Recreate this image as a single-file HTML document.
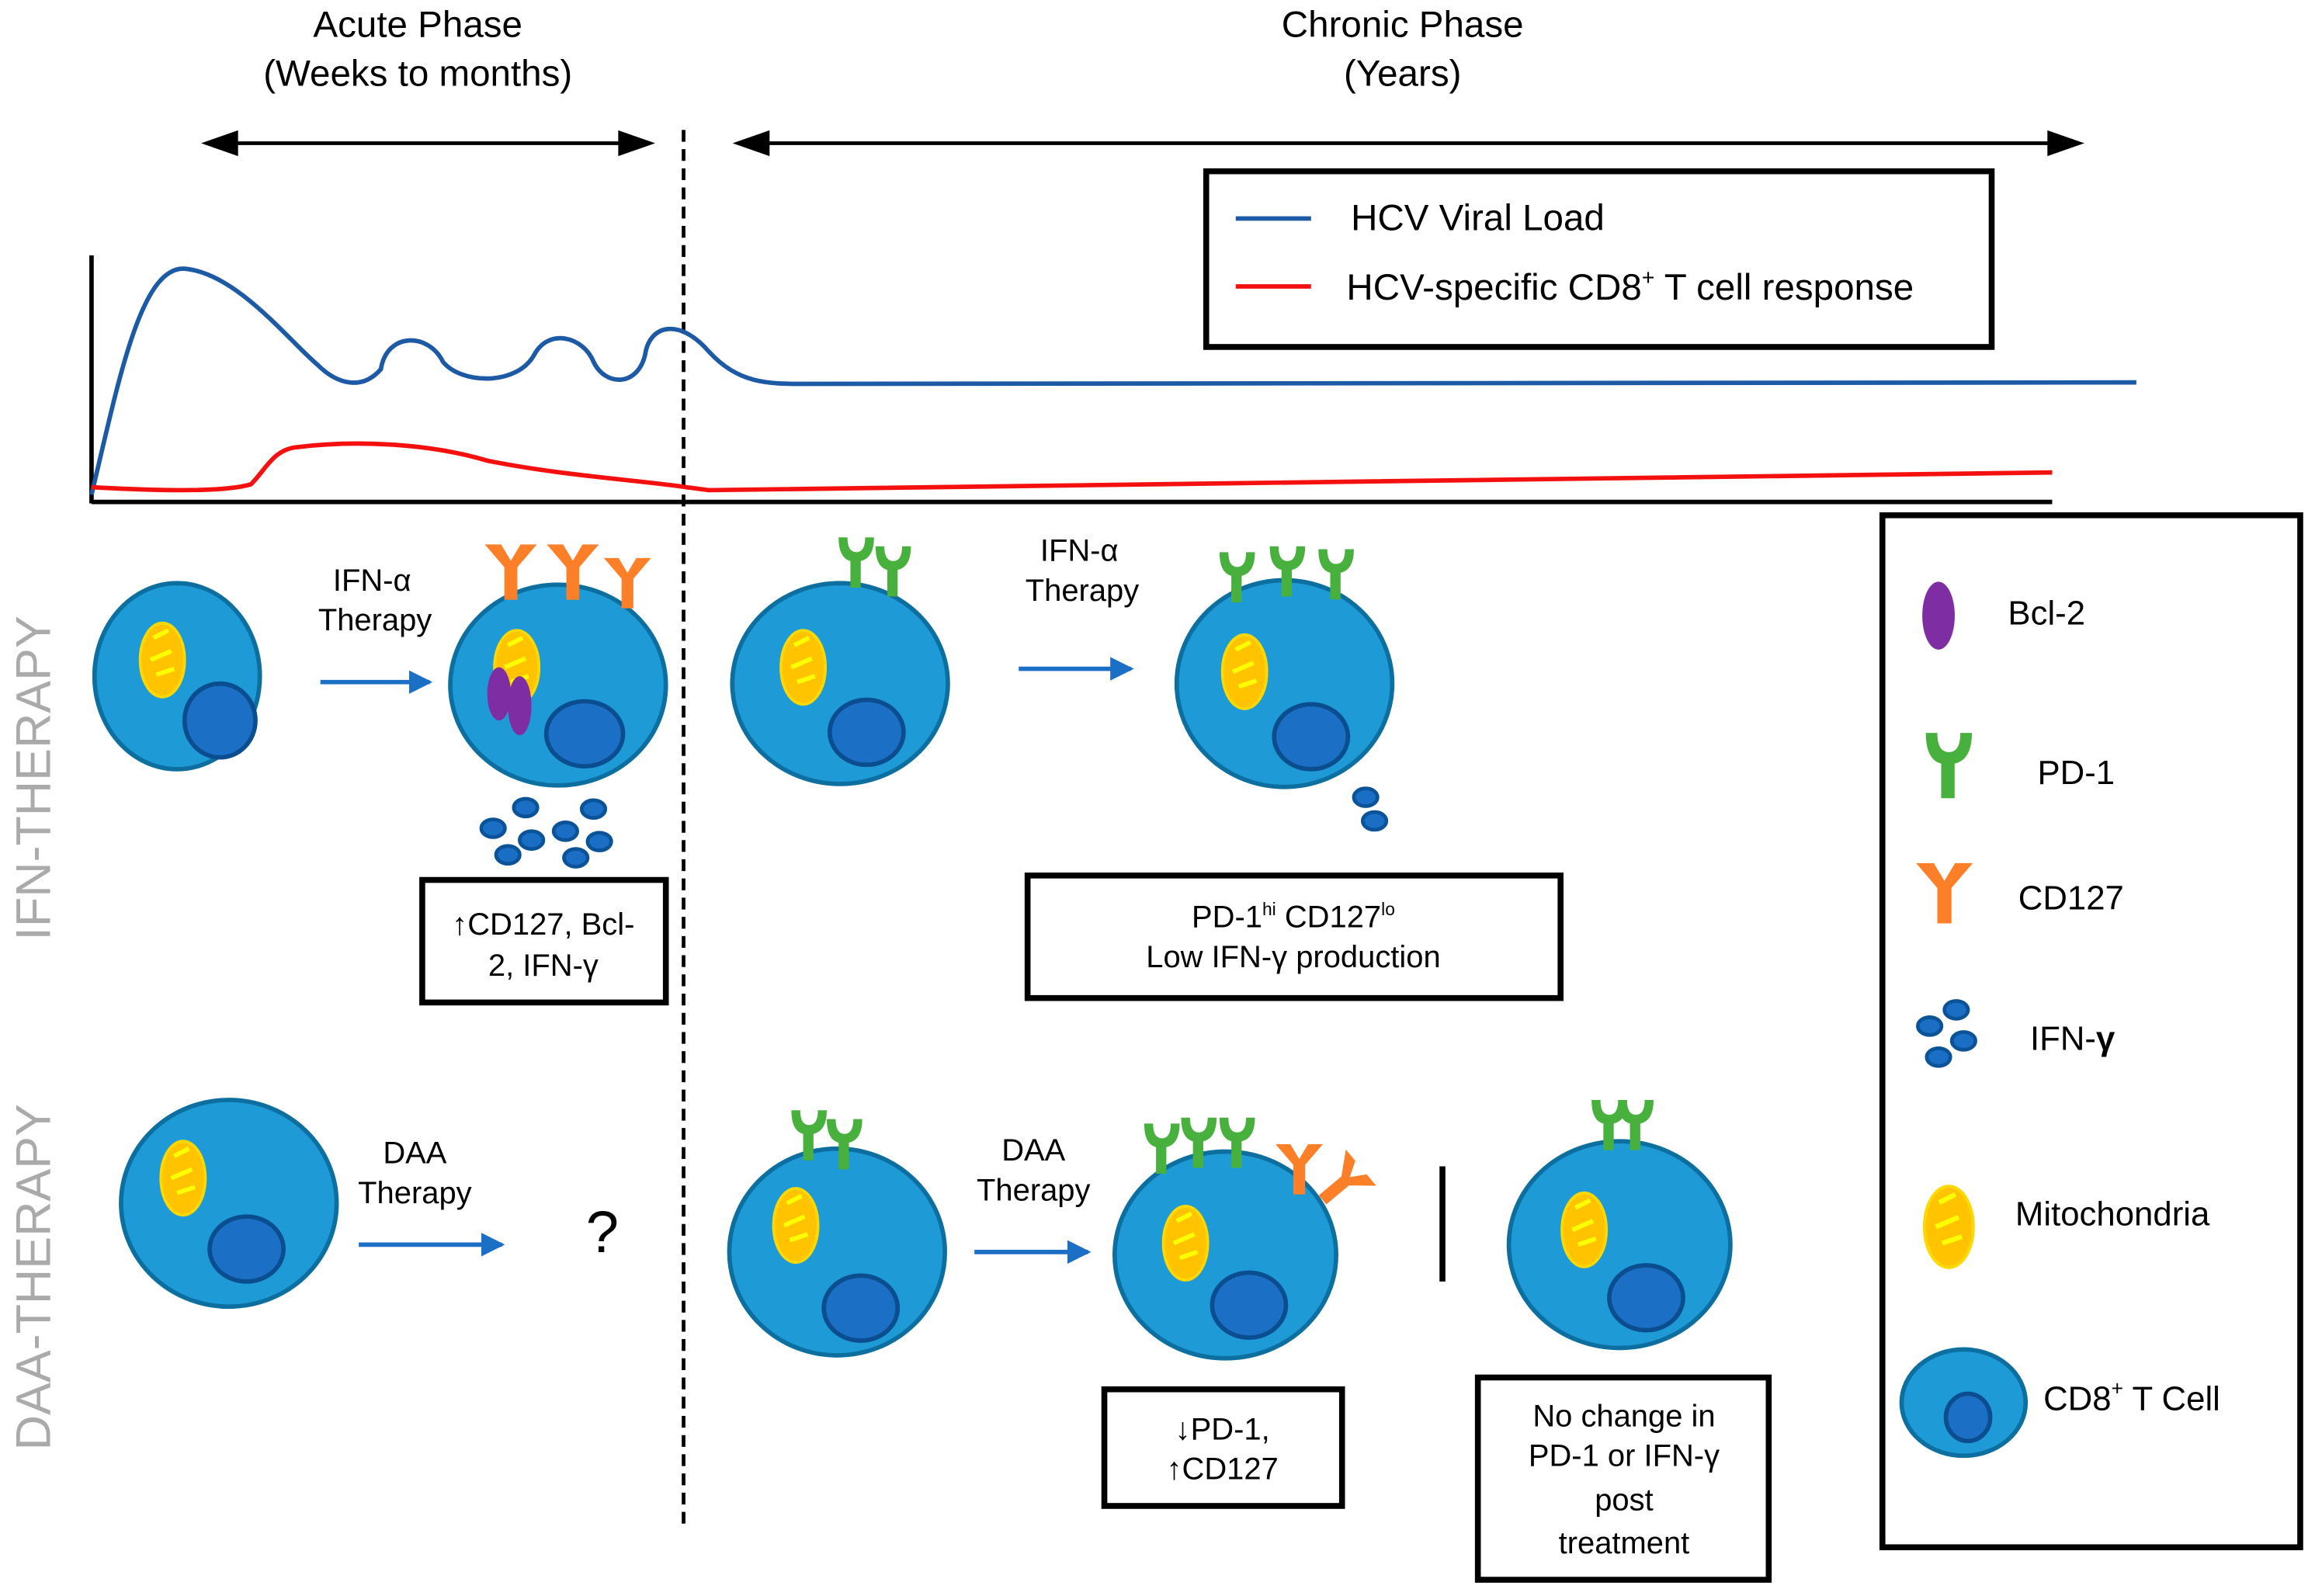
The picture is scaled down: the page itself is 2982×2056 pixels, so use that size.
<!DOCTYPE html>
<html><head><meta charset="utf-8"><style>html,body{margin:0;padding:0;background:#fff}svg{display:block}text{font-family:"Liberation Sans",sans-serif}</style></head>
<body>
<svg width="2982" height="2056" viewBox="0 0 1568 1081" preserveAspectRatio="none" xmlns="http://www.w3.org/2000/svg">
<defs>
<marker id="ah" markerWidth="16" markerHeight="16" refX="14" refY="8" orient="auto" markerUnits="userSpaceOnUse"><path d="M0,0 L16,8 L0,16z" fill="#1b6fc4"/></marker>
<g id="mito"><ellipse rx="15" ry="25" fill="#ffc300" stroke="#ffd800" stroke-width="2"/><path d="M-6,-15 L4,-20 M-8,0 L6,-6 M-4,10 L8,6" stroke="#ffff00" stroke-width="3" fill="none"/></g>
<g id="pd1"><path d="M-12,-22 L-6,-22 Q-6,-12 0,-12 Q6,-12 6,-22 L12,-22 Q12,-8 3,-6 L3,12 L-4,12 L-4,-6 Q-12,-8 -12,-22z" fill="#48b03c"/></g>
<g id="cd127"><path d="M-16,-22 L-6,-22 L0,-12 L6,-22 L16,-22 L4,-8 L4,12 L-4,12 L-4,-8z" fill="#fd7f27"/></g>
<g id="ifn"><ellipse rx="8" ry="6" fill="#1a6fc4" stroke="#0b5399" stroke-width="2.5"/></g>
</defs>
<rect width="1568" height="1081" fill="#fff"/>

<g font-size="25" text-anchor="middle" fill="#000">
<text x="283" y="25">Acute Phase</text><text x="283" y="58">(Weeks to months)</text>
<text x="950" y="25">Chronic Phase</text><text x="950" y="58">(Years)</text>
</g>
<g stroke="#000" stroke-width="2.5" fill="#000">
<line x1="150" y1="97" x2="430" y2="97"/><path d="M140,97 L160,90 L160,104z"/><path d="M440,97 L420,90 L420,104z"/>
<line x1="510" y1="97" x2="1398" y2="97"/><path d="M500,97 L520,90 L520,104z"/><path d="M1408,97 L1388,90 L1388,104z"/>
</g>
<line x1="463" y1="88" x2="463" y2="1035" stroke="#000" stroke-width="2.5" stroke-dasharray="8,5"/>

<line x1="62" y1="173" x2="62" y2="341" stroke="#000" stroke-width="3"/>
<line x1="62" y1="340" x2="1390" y2="340" stroke="#000" stroke-width="3"/>
<path d="M62,335 C80,260 95,180 125,182 C160,185 195,230 215,247 C228,260 245,265 258,250 C262,225 290,225 300,245 C312,260 350,262 362,240 C372,222 395,228 402,245 C410,262 432,262 437,240 C440,220 460,215 480,238 C500,260 520,260 545,260 L1447,259" fill="none" stroke="#1c5aa6" stroke-width="3"/>
<path d="M62,330 C100,332 150,334 170,328 C180,318 185,305 200,303 C240,298 290,300 330,312 C380,322 430,325 465,330 L480,332 L1390,320" fill="none" stroke="#f51010" stroke-width="3"/>
<rect x="817" y="116" width="532" height="119" fill="none" stroke="#000" stroke-width="4"/>
<line x1="837" y1="148" x2="888" y2="148" stroke="#1c5aa6" stroke-width="3"/>
<line x1="837" y1="194" x2="888" y2="194" stroke="#f51010" stroke-width="3"/>
<text x="915" y="156" font-size="25">HCV  Viral Load</text>
<text x="912" y="203" font-size="25">HCV-specific CD8<tspan font-size="15" dy="-10">+</tspan><tspan dy="10"> T cell response</tspan></text>

<text transform="translate(34,527) rotate(-90)" text-anchor="middle" font-size="33" fill="#aaaaaa">IFN-THERAPY</text>
<text transform="translate(34,865) rotate(-90)" text-anchor="middle" font-size="33" fill="#aaaaaa">DAA-THERAPY</text>

<ellipse cx="120" cy="458" rx="56" ry="63" fill="#1e9bd7" stroke="#0d6fa0" stroke-width="3"/>
<use href="#mito" x="110" y="447"/>
<ellipse cx="149" cy="488" rx="24" ry="25" fill="#1b6fc4" stroke="#0b4e8f" stroke-width="3"/>
<text x="252" y="400" font-size="21" text-anchor="middle">IFN-α</text><text x="254" y="427" font-size="21" text-anchor="middle">Therapy</text>
<line x1="217" y1="462" x2="291" y2="462" stroke="#1b6fc4" stroke-width="3" marker-end="url(#ah)"/>

<ellipse cx="378" cy="464" rx="73" ry="68" fill="#1e9bd7" stroke="#0d6fa0" stroke-width="3"/>
<use href="#cd127" transform="translate(346,393) scale(1.1)"/><use href="#cd127" transform="translate(388,393) scale(1.1)"/><use href="#cd127" x="425" y="400"/>
<use href="#mito" x="350" y="452"/>
<ellipse cx="338" cy="470" rx="8" ry="18" fill="#7e2ea2"/><ellipse cx="352" cy="478" rx="8" ry="20" fill="#7e2ea2"/>
<ellipse cx="396" cy="497" rx="26" ry="22" fill="#1b6fc4" stroke="#0b4e8f" stroke-width="3"/>
<use href="#ifn" x="334" y="561"/><use href="#ifn" x="356" y="547"/><use href="#ifn" x="360" y="569"/><use href="#ifn" x="344" y="579"/>
<use href="#ifn" x="383" y="563"/><use href="#ifn" x="402" y="548"/><use href="#ifn" x="406" y="570"/><use href="#ifn" x="390" y="581"/>
<rect x="286" y="596" width="165" height="83" fill="#fff" stroke="#000" stroke-width="4"/>
<text x="368" y="633" font-size="21" text-anchor="middle">↑CD127,  Bcl-</text><text x="368" y="661" font-size="21" text-anchor="middle">2, IFN-γ</text>

<ellipse cx="569" cy="463" rx="73" ry="68" fill="#1e9bd7" stroke="#0d6fa0" stroke-width="3"/>
<use href="#pd1" x="580" y="386"/><use href="#pd1" x="605" y="392"/>
<use href="#mito" x="544" y="452"/>
<ellipse cx="587" cy="496" rx="25" ry="22" fill="#1b6fc4" stroke="#0b4e8f" stroke-width="3"/>
<text x="731" y="380" font-size="21" text-anchor="middle">IFN-α</text><text x="733" y="407" font-size="21" text-anchor="middle">Therapy</text>
<line x1="690" y1="453" x2="766" y2="453" stroke="#1b6fc4" stroke-width="3" marker-end="url(#ah)"/>
<ellipse cx="870" cy="463" rx="73" ry="70" fill="#1e9bd7" stroke="#0d6fa0" stroke-width="3"/>
<use href="#pd1" x="838" y="396"/><use href="#pd1" x="872" y="392"/><use href="#pd1" x="905" y="394"/>
<use href="#mito" x="843" y="455"/>
<ellipse cx="888" cy="499" rx="25" ry="22" fill="#1b6fc4" stroke="#0b4e8f" stroke-width="3"/>
<use href="#ifn" x="925" y="540"/><use href="#ifn" x="931" y="556"/>
<rect x="696" y="593" width="361" height="83" fill="#fff" stroke="#000" stroke-width="4"/>
<text x="876" y="628" font-size="21" text-anchor="middle">PD-1<tspan font-size="12" dy="-8">hi</tspan><tspan dy="8"> CD127</tspan><tspan font-size="12" dy="-8">lo</tspan></text>
<text x="876" y="655" font-size="21" text-anchor="middle">Low IFN-γ production</text>

<ellipse cx="155" cy="815" rx="73" ry="70" fill="#1e9bd7" stroke="#0d6fa0" stroke-width="3"/>
<use href="#mito" x="124" y="798"/>
<ellipse cx="167" cy="846" rx="25" ry="22" fill="#1b6fc4" stroke="#0b4e8f" stroke-width="3"/>
<text x="281" y="788" font-size="21" text-anchor="middle">DAA</text><text x="281" y="815" font-size="21" text-anchor="middle">Therapy</text>
<line x1="243" y1="843" x2="340" y2="843" stroke="#1b6fc4" stroke-width="3" marker-end="url(#ah)"/>
<text x="408" y="848" font-size="40" text-anchor="middle">?</text>

<ellipse cx="567" cy="848" rx="73" ry="70" fill="#1e9bd7" stroke="#0d6fa0" stroke-width="3"/>
<use href="#pd1" x="548" y="774"/><use href="#pd1" x="572" y="780"/>
<use href="#mito" x="539" y="830"/>
<ellipse cx="583" cy="886" rx="25" ry="22" fill="#1b6fc4" stroke="#0b4e8f" stroke-width="3"/>
<text x="700" y="786" font-size="21" text-anchor="middle">DAA</text><text x="700" y="813" font-size="21" text-anchor="middle">Therapy</text>
<line x1="660" y1="848" x2="737" y2="848" stroke="#1b6fc4" stroke-width="3" marker-end="url(#ah)"/>
<ellipse cx="830" cy="850" rx="75" ry="70" fill="#1e9bd7" stroke="#0d6fa0" stroke-width="3"/>
<use href="#pd1" x="787" y="783"/><use href="#pd1" x="812" y="779"/><use href="#pd1" x="838" y="779"/>
<use href="#cd127" x="880" y="797"/>
<use href="#cd127" transform="translate(905,805) rotate(50)"/>
<use href="#mito" x="803" y="842"/>
<ellipse cx="846" cy="884" rx="25" ry="22" fill="#1b6fc4" stroke="#0b4e8f" stroke-width="3"/>
<line x1="977" y1="790" x2="977" y2="868" stroke="#000" stroke-width="4"/>
<ellipse cx="1097" cy="843" rx="75" ry="70" fill="#1e9bd7" stroke="#0d6fa0" stroke-width="3"/>
<use href="#pd1" x="1090" y="767"/><use href="#pd1" x="1108" y="767"/>
<use href="#mito" x="1073" y="833"/>
<ellipse cx="1115" cy="879" rx="25" ry="22" fill="#1b6fc4" stroke="#0b4e8f" stroke-width="3"/>
<rect x="748" y="941" width="161" height="79" fill="#fff" stroke="#000" stroke-width="4"/>
<text x="828" y="975" font-size="21" text-anchor="middle">↓PD-1,</text><text x="828" y="1002" font-size="21" text-anchor="middle">↑CD127</text>
<rect x="1001" y="933" width="197" height="137" fill="#fff" stroke="#000" stroke-width="4"/>
<g font-size="21" text-anchor="middle"><text x="1100" y="966">No change  in</text><text x="1100" y="993">PD-1 or IFN-γ</text><text x="1100" y="1023">post</text><text x="1100" y="1052">treatment</text></g>

<rect x="1275" y="349" width="283" height="699" fill="none" stroke="#000" stroke-width="4"/>
<ellipse cx="1313" cy="417" rx="11" ry="23" fill="#7e2ea2"/>
<text x="1360" y="423" font-size="23">Bcl-2</text>
<use href="#pd1" transform="translate(1320,525) scale(1.3)"/>
<text x="1380" y="531" font-size="23">PD-1</text>
<use href="#cd127" transform="translate(1317,611) scale(1.2)"/>
<text x="1367" y="616" font-size="23">CD127</text>
<use href="#ifn" x="1307" y="695"/><use href="#ifn" x="1325" y="684"/><use href="#ifn" x="1330" y="705"/><use href="#ifn" x="1313" y="716"/>
<text x="1375" y="711" font-size="23">IFN-<tspan font-weight="bold">γ</tspan></text>
<use href="#mito" transform="translate(1320,831) scale(1.1)"/>
<text x="1365" y="830" font-size="23">Mitochondria</text>
<ellipse cx="1330" cy="950" rx="42" ry="36" fill="#1e9bd7" stroke="#0d6fa0" stroke-width="3"/>
<ellipse cx="1333" cy="960" rx="15" ry="16" fill="#1b6fc4" stroke="#0b4e8f" stroke-width="3"/>
<text x="1384" y="955" font-size="23">CD8<tspan font-size="14" dy="-10">+</tspan><tspan dy="10"> T Cell</tspan></text>
</svg>
</body></html>
